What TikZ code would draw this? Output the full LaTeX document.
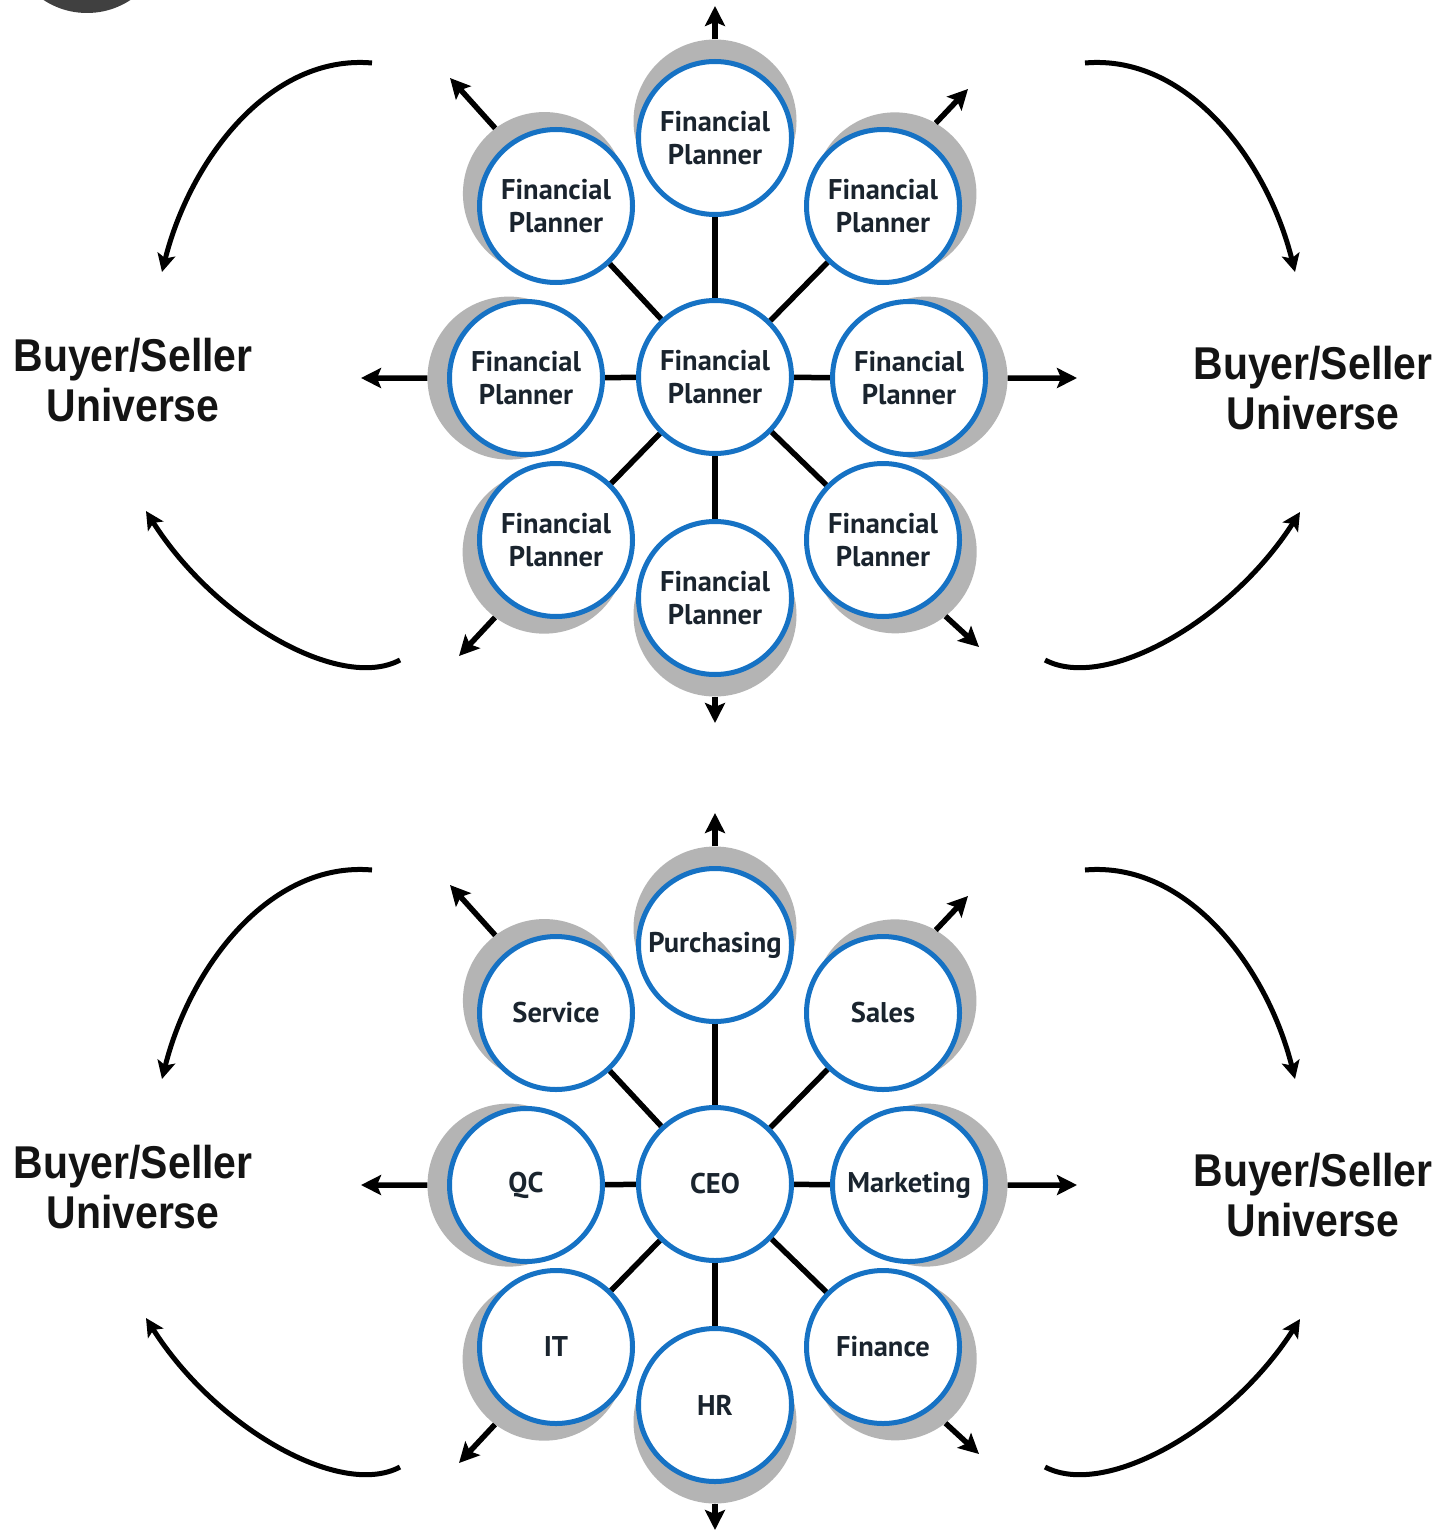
\documentclass[tikz,border=0pt]{standalone}
\usepackage{fontspec}
\setmainfont{PT Sans}
\newfontfamily\bsfont{Liberation Sans}[FakeStretch=0.89]
\usetikzlibrary{arrows.meta,calc,backgrounds}
\definecolor{ringblue}{RGB}{22,114,196}
\definecolor{shadowgray}{RGB}{180,180,180}
\definecolor{txtdark}{RGB}{26,36,46}
\definecolor{topdisc}{RGB}{64,64,64}
\pgfdeclarelayer{bottom}
\pgfsetlayers{bottom,background,main}
\tikzset{
  planner/.style={circle,draw=ringblue,line width=5pt,fill=white,minimum size=153pt,inner sep=0pt,align=center,text=txtdark,font=\fontsize{28.5}{33}\selectfont\bfseries},
  shadowdisc/.style={circle,fill=shadowgray,minimum size=163pt,inner sep=0pt},
  spoke/.style={line width=5.5pt},
  outarrow/.style={line width=5.5pt,-{Stealth[length=20pt,width=20pt,inset=4pt]}},
  looparrow/.style={line width=5pt,-{Stealth[length=18pt,width=18pt,inset=4pt]}},
  universe/.style={align=center,font=\bsfont\bfseries\fontsize{46}{50}\selectfont,text=black!92}
}
\newcommand{\orgchart}[4]{%
  \node[planner] (#1C) at (715,{377+#2}) {#3};
  \foreach \n/\x/\y/\t in {#4}{\node[planner] (#1\n) at (\x,{\y+#2}) {\t};}
  \begin{pgfonlayer}{background}
    \foreach \n in {N,NE,E,SE,S,SW,W,NW}{\node[shadowdisc] (#1\n-sh) at ($(#1\n)!-17pt!(#1C)$) {};}
    \foreach \n in {N,NE,E,SE,S,SW,W,NW}{\draw[spoke] (#1C) -- (#1\n);}
  \end{pgfonlayer}
  \coordinate (#1Na) at (715,{6+#2});
  \coordinate (#1NEa) at (968,{89+#2});
  \coordinate (#1Ea) at (1077,{378+#2});
  \coordinate (#1SEa) at (979,{647+#2});
  \coordinate (#1Sa) at (715,{723+#2});
  \coordinate (#1SWa) at (459,{656+#2});
  \coordinate (#1Wa) at (361,{378+#2});
  \coordinate (#1NWa) at (450,{78+#2});
  \draw[outarrow] (#1N-sh.north) -- (#1Na);
  \draw[outarrow] (#1NE-sh.60) -- (#1NEa);
  \draw[outarrow] (#1E-sh.east) -- (#1Ea);
  \draw[outarrow] (#1SE-sh.308) -- (#1SEa);
  \draw[outarrow] (#1S-sh.south) -- (#1Sa);
  \draw[outarrow] (#1SW-sh.233) -- (#1SWa);
  \draw[outarrow] (#1W-sh.west) -- (#1Wa);
  \draw[outarrow] (#1NW-sh.127) -- (#1NWa);
  % loops
  \coordinate (#1TLs) at (372,{63+#2});
  \coordinate (#1TLe) at (162,{272+#2});
  \coordinate (#1TRs) at (1085,{63+#2});
  \coordinate (#1TRe) at (1295,{272+#2});
  \coordinate (#1BLs) at (400,{660+#2});
  \coordinate (#1BLe) at (146,{511+#2});
  \coordinate (#1BRs) at (1045,{660+#2});
  \coordinate (#1BRe) at (1300,{512+#2});
  \draw[looparrow] (#1TLs) .. controls (270,{54+#2}) and (190,{160+#2}) .. (#1TLe);
  \draw[looparrow] (#1TRs) .. controls (1187,{54+#2}) and (1267,{160+#2}) .. (#1TRe);
  \draw[looparrow] (#1BLs) .. controls (340,{692+#2}) and (215,{620+#2}) .. (#1BLe);
  \draw[looparrow] (#1BRs) .. controls (1106,{692+#2}) and (1231,{620+#2}) .. (#1BRe);
  \node[universe] (#1LU) at (133,{380+#2}) {Buyer/Seller\\Universe};
  \node[universe] (#1RU) at (1313,{388+#2}) {Buyer/Seller\\Universe};
}
\begin{document}
\begin{tikzpicture}[x=1pt,y=-1pt]
\useasboundingbox (0,0) rectangle (1451,1530);
\begin{pgfonlayer}{bottom}
  \fill[white] (0,0) rectangle (1451,1530);
\end{pgfonlayer}
\fill[topdisc] (87,-66) circle[radius=79pt];
\orgchart{t}{0}{Financial\\Planner}{N/715/138/{Financial\\Planner},NE/883/206/{Financial\\Planner},E/909/378/{Financial\\Planner},SE/883/540/{Financial\\Planner},S/715/598/{Financial\\Planner},SW/556/540/{Financial\\Planner},W/526/378/{Financial\\Planner},NW/556/206/{Financial\\Planner}}
\orgchart{b}{807}{CEO}{N/715/138/{Purchasing},NE/883/206/{Sales},E/909/378/{Marketing},SE/883/540/{Finance},S/715/598/{HR},SW/556/540/{IT},W/526/378/{QC},NW/556/206/{Service}}
\end{tikzpicture}
\end{document}
